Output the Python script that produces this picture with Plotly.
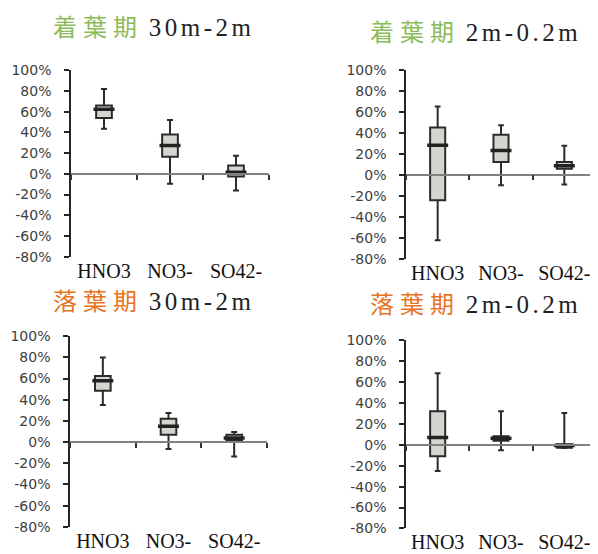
import plotly.graph_objects as go

categories = ["HNO3", "NO3-", "SO42-"]

titles_season = ["着葉期", "着葉期", "落葉期", "落葉期"]
titles_range = ["30m-2m", "2m-0.2m", "30m-2m", "2m-0.2m"]

p1_upper = [82, 52, 17.5]
p1_q3 = [66, 38, 8]
p1_median = [62.5, 27.5, 1.5]
p1_q1 = [54, 16.5, -2.5]
p1_lower = [43.5, -9.5, -16]

p2_upper = [65, 47, 27.5]
p2_q3 = [45, 38, 12]
p2_median = [28, 23, 8.5]
p2_q1 = [-24.5, 12, 5.5]
p2_lower = [-62.5, -10, -9.5]

p3_upper = [80, 27.5, 9.5]
p3_q3 = [62.5, 22, 7]
p3_median = [58, 15, 4]
p3_q1 = [48.5, 7, 2]
p3_lower = [35, -6.5, -13.5]

p4_upper = [68.5, 32, 30.5]
p4_q3 = [32, 8.2, 0.6]
p4_median = [7, 6.3, -0.6]
p4_q1 = [-11, 3.8, -2.8]
p4_lower = [-25, -5.3, -3]

y_ticks = [-80, -60, -40, -20, 0, 20, 40, 60, 80, 100]
y_ticktext = [f"{v}%" for v in y_ticks]

panels = [
    (p1_lower, p1_q1, p1_median, p1_q3, p1_upper),
    (p2_lower, p2_q1, p2_median, p2_q3, p2_upper),
    (p3_lower, p3_q1, p3_median, p3_q3, p3_upper),
    (p4_lower, p4_q1, p4_median, p4_q3, p4_upper),
]

W, H = 598, 554
OFF = 8          # page body margin
SY = 0.985       # vertical scale of the photographed page


def fx(sx):
    return sx - OFF


def fy(sy):
    return sy / SY - OFF


# target positions on screen (left, right, top, bottom)
dom_px = [
    (71, 269, 63, 252),
    (406, 596, 62.3, 254),
    (70, 267, 332.7, 526),
    (406, 596, 336.7, 527.7),
]
title_pos = [(153.5, 25), (475.5, 30), (153.5, 303), (475.5, 306)]
TITLE_SHIFT = 8
season_colors = {"着葉期": "#8cbb5a", "落葉期": "#e8741f"}

YMIN, YMAX = -80, 100
fig = go.Figure()
layout = dict(
    width=W, height=H, margin=dict(l=0, r=0, t=0, b=0),
    plot_bgcolor="white", paper_bgcolor="white", showlegend=False,
    boxgap=0.66,
)
annotations = []

for i, (lo, q1, med, q3, up) in enumerate(panels):
    n = i + 1
    xa = "x" if n == 1 else f"x{n}"
    ya = "y" if n == 1 else f"y{n}"
    ov = f"x{n + 4}"
    l, r, t, b = dom_px[i]
    xd = [fx(l) / W, min(1.0, fx(r) / W)]
    yd = [1 - fy(b) / H, 1 - fy(t) / H]

    fig.add_trace(go.Box(
        x=categories, q1=q1, median=med, q3=q3, lowerfence=lo, upperfence=up,
        boxpoints=False, xaxis=xa, yaxis=ya,
        fillcolor="#d5d5d0", line=dict(color="#2b2b2b", width=2),
        whiskerwidth=0.38, hoverinfo="skip",
    ))
    fig.add_trace(go.Scatter(
        x=categories, y=med, mode="markers", xaxis=ov, yaxis=ya,
        marker=dict(symbol="line-ew", size=15, line=dict(color="#222222", width=3.5)),
        hoverinfo="skip",
    ))

    layout[f"xaxis{'' if n == 1 else n}"] = dict(
        domain=xd, anchor=ya, type="category", categoryarray=categories,
        categoryorder="array", range=[-0.5, 2.5], showline=False, ticks="",
        showgrid=False, zeroline=False,
        tickfont=dict(family="Liberation Serif", size=20, color="#111111"),
        ticklabelstandoff=0,
    )
    zero_pos = yd[0] + (0 - YMIN) / (YMAX - YMIN) * (yd[1] - yd[0])
    layout[f"xaxis{n + 4}"] = dict(
        domain=xd, anchor="free", overlaying=xa, position=zero_pos,
        type="category", categoryarray=categories, categoryorder="array",
        range=[-0.5, 2.5], showline=True, linecolor="#808080", linewidth=1.5,
        ticks="outside", tickson="boundaries", ticklen=5, tickwidth=1.5,
        tickcolor="#333333", showticklabels=False, showgrid=False, zeroline=False,
    )
    layout[f"yaxis{'' if n == 1 else n}"] = dict(
        domain=yd, anchor=xa, range=[YMIN, YMAX], tickvals=y_ticks,
        ticktext=y_ticktext, showline=True, linecolor="#262626", linewidth=1.5,
        ticks="outside", ticklen=5, tickwidth=1.5, tickcolor="#262626",
        showgrid=False, zeroline=False,
        tickfont=dict(family="DejaVu Sans", size=14, color="#404040"),
        ticklabelstandoff=10,
    )

    cx, cy = title_pos[i]
    season = titles_season[i]
    annotations.append(dict(
        x=fx(cx) / W, y=1 - (fy(cy) - TITLE_SHIFT) / H, xref="paper", yref="paper",
        xanchor="center", yanchor="middle", showarrow=False,
        text=(f"<span style='font-family:Noto Sans CJK JP;color:{season_colors[season]};"
              f"font-size:24px;letter-spacing:6px'>{season}</span> "
              f"<span style='font-size:25px;letter-spacing:3.5px'>{titles_range[i]}</span>"),
        font=dict(family="Liberation Serif", size=23, color="#222222"),
    ))

layout["annotations"] = annotations
fig.update_layout(**layout)
fig.write_html("out.html")
